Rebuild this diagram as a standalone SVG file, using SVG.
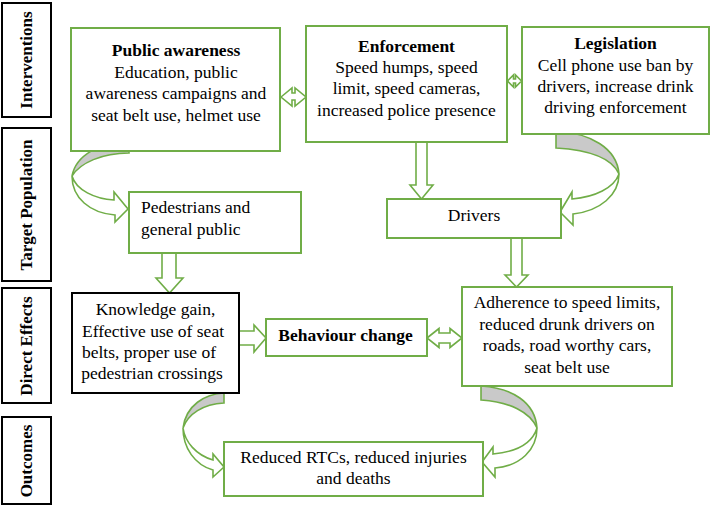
<svg xmlns="http://www.w3.org/2000/svg" width="712" height="506" viewBox="0 0 712 506">
<style>
  .lbl rect { fill: #fff; stroke: #000; stroke-width: 2; }
  .lbl text { font-family: "Liberation Serif", "Times New Roman", serif; font-size: 17px; font-weight: bold; text-anchor: middle; fill: #000; }
  .box { fill: #fff; stroke: #70AD47; stroke-width: 2; }
  .bbox { fill: #fff; stroke: #000; stroke-width: 2; }
  .t { font-family: "Liberation Serif", "Times New Roman", serif; font-size: 17.5px; fill: #000; text-anchor: middle; }
  .b { font-weight: bold; }
  .l { text-anchor: start; }
  .arr { fill: #fff; stroke: #70AD47; stroke-width: 1.6; stroke-linejoin: miter; }
  .back { fill: #C9C9C9; stroke: #70AD47; stroke-width: 1.6; }
</style>

<g id="label-interventions" class="lbl">
  <rect x="2" y="3" width="49" height="114"/>
  <text transform="translate(32,60) rotate(-90)">Interventions</text>
</g>
<g id="label-target" class="lbl">
  <rect x="2" y="128" width="49" height="153"/>
  <text transform="translate(32,205) rotate(-90)">Target Population</text>
</g>
<g id="label-direct" class="lbl">
  <rect x="2" y="288" width="49" height="115"/>
  <text transform="translate(32,346) rotate(-90)">Direct Effects</text>
</g>
<g id="label-outcomes" class="lbl">
  <rect x="2" y="417" width="49" height="87"/>
  <text transform="translate(32,461) rotate(-90)">Outcomes</text>
</g>

<g id="connectors">
  <!-- PA <-> Enforcement -->
  <path class="arr" d="M281,97 L292,88 L292,93 L295,93 L295,88 L306,97 L295,106 L295,100 L292,100 L292,106 Z"/>
  <!-- Enforcement <-> Legislation -->
  <path class="arr" d="M507.5,81 L513.5,75 L513.5,79 L515.5,79 L515.5,75 L521.5,81 L515.5,87 L515.5,83 L513.5,83 L513.5,87 Z"/>
  <!-- Enforcement -> Drivers -->
  <path class="arr" d="M416,142 L427,142 L427,185 L433,185 L421.5,199 L410,185 L416,185 Z"/>
  <!-- Pedestrians -> Knowledge -->
  <path class="arr" d="M162,253 L176,253 L176,278 L183,278 L169.5,293 L156,278 L162,278 Z"/>
  <!-- Drivers -> Adherence -->
  <path class="arr" d="M511,238 L522,238 L522,275 L528,275 L516.5,287 L505,275 L511,275 Z"/>
  <!-- Knowledge -> Behaviour -->
  <path class="arr" d="M239,331 L254,331 L254,325 L266,338 L254,352 L254,345 L239,345 Z"/>
  <!-- Behaviour <-> Adherence -->
  <path class="arr" d="M427,338 L439,328.5 L439,333 L450,333 L450,328.5 L462,338 L450,347.5 L450,343 L439,343 L439,347.5 Z"/>

  <!-- Curved: Public awareness -> Pedestrians -->
  <path class="back" d="M129,142 C100,142 76,155 72,176 C80,163 102,153 129,153 Z"/>
  <path class="arr" d="M72,176 C76,190 95,199 114,200 L114,192 L128,209 L115,222 L115,215 C90,213 72,198 72,176 Z"/>

  <!-- Curved: Legislation -> Drivers -->
  <path class="back" d="M556,131 C590,133 617,148 619,174 C612,158 590,150 556,148 Z"/>
  <path class="arr" d="M619,174 C619,195 600,211 573,214 L573,225 L560,212 L572,192 L572,199 C595,197 614,188 619,174 Z"/>

  <!-- Curved: Knowledge -> Reduced RTCs -->
  <path class="back" d="M224,393 C205,394 186,405 183,428 C188,414 203,404 224,403 Z"/>
  <path class="arr" d="M183,428 C183,448 195,465 213,470 L213,477 L224,467 L213,454 L213,460 C196,455 185,442 183,428 Z"/>

  <!-- Curved: Adherence -> Reduced RTCs -->
  <path class="back" d="M481,386 C512,388 535,402 537,428 C530,412 510,402 481,400 Z"/>
  <path class="arr" d="M537,428 C537,450 520,466 495,468 L495,477 L482,462 L493,447 L493,454 C515,452 532,444 537,428 Z"/>
</g>

<g id="node-public-awareness">
  <rect class="box" x="71" y="28" width="209" height="123"/>
  <text class="t b" x="176" y="56">Public awareness</text>
  <text class="t" x="176" y="77.5">Education, public</text>
  <text class="t" x="176" y="99">awareness campaigns and</text>
  <text class="t" x="176" y="120.5">seat belt use, helmet use</text>
</g>
<g id="node-enforcement">
  <rect class="box" x="306" y="26" width="201" height="116"/>
  <text class="t b" x="406.5" y="51.5">Enforcement</text>
  <text class="t" x="406.5" y="72.5">Speed humps, speed</text>
  <text class="t" x="406.5" y="94">limit, speed cameras,</text>
  <text class="t" x="406.5" y="115.5">increased police presence</text>
</g>
<g id="node-legislation">
  <rect class="box" x="522" y="27" width="187" height="107"/>
  <text class="t b" x="615.5" y="48.5">Legislation</text>
  <text class="t" x="615.5" y="70.5">Cell phone use ban by</text>
  <text class="t" x="615.5" y="91.5">drivers, increase drink</text>
  <text class="t" x="615.5" y="112.5">driving enforcement</text>
</g>
<g id="node-pedestrians">
  <rect class="box" x="129" y="192" width="172" height="61"/>
  <text class="t l" x="141" y="213">Pedestrians and</text>
  <text class="t l" x="141" y="235">general public</text>
</g>
<g id="node-drivers">
  <rect class="box" x="387" y="199" width="174" height="39"/>
  <text class="t" x="474" y="221">Drivers</text>
</g>
<g id="node-knowledge">
  <rect class="bbox" x="72" y="293" width="167" height="100"/>
  <text class="t" x="155.5" y="315">Knowledge gain,</text>
  <text class="t" x="153" y="336.5">Effective use of seat</text>
  <text class="t" x="149" y="358">belts, proper use of</text>
  <text class="t" x="152" y="379">pedestrian crossings</text>
</g>
<g id="node-behaviour">
  <rect class="box" x="266" y="319" width="161" height="37"/>
  <text class="t b" x="345.5" y="341">Behaviour change</text>
</g>
<g id="node-adherence">
  <rect class="box" x="462" y="287" width="210" height="99"/>
  <text class="t" x="567" y="308">Adherence to speed limits,</text>
  <text class="t" x="567" y="329.5">reduced drunk drivers on</text>
  <text class="t" x="567" y="351">roads, road worthy cars,</text>
  <text class="t" x="567" y="372.5">seat belt use</text>
</g>
<g id="node-outcomes">
  <rect class="box" x="224" y="442" width="259" height="54"/>
  <text class="t" x="353.5" y="463">Reduced RTCs, reduced injuries</text>
  <text class="t" x="353.5" y="484">and deaths</text>
</g>
</svg>
